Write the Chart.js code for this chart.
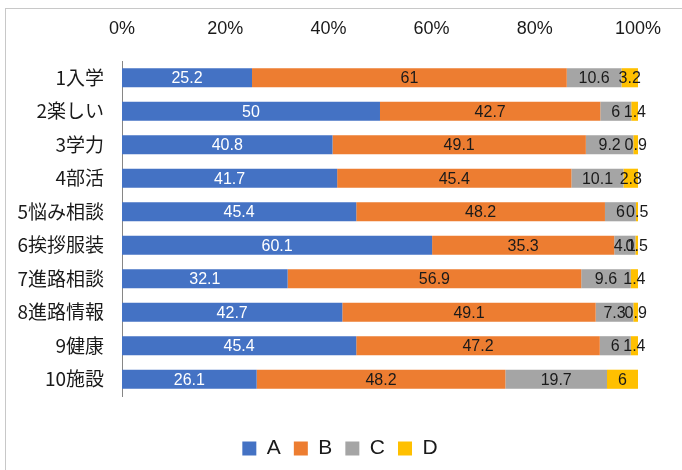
<!DOCTYPE html>
<html>
<head>
<meta charset="utf-8">
<script src="https://cdn.jsdelivr.net/npm/chart.js@4"></script>
<style>
html,body{margin:0;padding:0;background:#fff;}
#wrap{position:relative;width:682px;height:470px;overflow:hidden;}
#frame{position:absolute;left:5px;top:8px;width:800px;height:600px;border-left:1px solid #c8c8c8;border-top:1px solid #c8c8c8;}
canvas{position:absolute;left:0;top:0;}
</style>
</head>
<body>
<div id="wrap">
<div id="frame"></div>
<canvas id="c" width="682" height="470"></canvas>
</div>
<script>
const categories = ['1入学','2楽しい','3学力','4部活','5悩み相談','6挨拶服装','7進路相談','8進路情報','9健康','10施設'];
const seriesA = [25.2, 50, 40.8, 41.7, 45.4, 60.1, 32.1, 42.7, 45.4, 26.1];
const seriesB = [61, 42.7, 49.1, 45.4, 48.2, 35.3, 56.9, 49.1, 47.2, 48.2];
const seriesC = [10.6, 6, 9.2, 10.1, 6, 4.1, 9.6, 7.3, 6, 19.7];
const seriesD = [3.2, 1.4, 0.9, 2.8, 0.5, 0.5, 1.4, 0.9, 1.4, 6];
const seriesNames = ['A','B','C','D'];
const seriesColors = ['#4472C4','#ED7D31','#A5A5A5','#FFC000'];
const labelColors = ['#ffffff','#1a1a1a','#1a1a1a','#1a1a1a'];

const labelPlugin = {
  id: 'valueLabels',
  afterDatasetsDraw(chart) {
    const ctx = chart.ctx;
    ctx.save();
    ctx.font = '16px "Liberation Sans", "Open Sans", sans-serif';
    ctx.textAlign = 'center';
    ctx.textBaseline = 'middle';
    chart.data.datasets.forEach((ds, di) => {
      const meta = chart.getDatasetMeta(di);
      ctx.fillStyle = labelColors[di];
      meta.data.forEach((el, i) => {
        const x = (el.x + el.base) / 2;
        ctx.fillText(String(ds.data[i]), x, el.y + 1);
      });
    });
    ctx.restore();
  }
};

const legendShift = {
  id: 'legendShift',
  afterLayout(chart) {
    const lg = chart.legend;
    if (lg) { lg.top -= 1; lg.bottom -= 1; lg.left += 21; lg.right += 21; }
  }
};

const data = {
  labels: categories,
  datasets: [seriesA, seriesB, seriesC, seriesD].map((d, i) => ({
    label: seriesNames[i],
    data: d,
    backgroundColor: seriesColors[i],
    borderWidth: 0,
    categoryPercentage: 1,
    barPercentage: 0.57
  }))
};

new Chart(document.getElementById('c'), {
  type: 'bar',
  data: data,
  plugins: [labelPlugin, legendShift],
  options: {
    indexAxis: 'y',
    responsive: false,
    animation: false,
    devicePixelRatio: 1,
    layout: { padding: { top: 18, right: 44, bottom: 0, left: 0 } },
    scales: {
      x: {
        position: 'top',
        stacked: true,
        min: 0,
        max: 100,
        grid: { display: false, drawTicks: false },
        border: { display: false },
        ticks: {
          stepSize: 20,
          padding: 21,
          color: '#1a1a1a',
          font: { size: 18, family: '"Liberation Sans", "Open Sans", sans-serif' },
          callback: v => v + '%'
        },
        afterFit: s => { s.height = 43; }
      },
      xb: {
        type: 'linear',
        position: 'bottom',
        display: true,
        grid: { display: false, drawTicks: false },
        border: { display: false },
        ticks: { display: false },
        afterFit: s => { s.height = 30; }
      },
      y: {
        stacked: true,
        grid: { display: false, drawTicks: false },
        border: { display: true, color: '#868686', width: 1 },
        ticks: {
          padding: 18,
          color: '#1a1a1a',
          font: { size: 19, family: '"Noto Sans CJK JP", sans-serif' }
        },
        afterFit: s => { s.width = 122; }
      }
    },
    plugins: {
      legend: {
        position: 'bottom',
        labels: {
          boxWidth: 14,
          boxHeight: 14,
          padding: 13,
          color: '#1a1a1a',
          font: { size: 21, family: '"Liberation Sans", "Open Sans", sans-serif' }
        }
      },
      tooltip: { enabled: false }
    }
  }
});
</script>
</body>
</html>
